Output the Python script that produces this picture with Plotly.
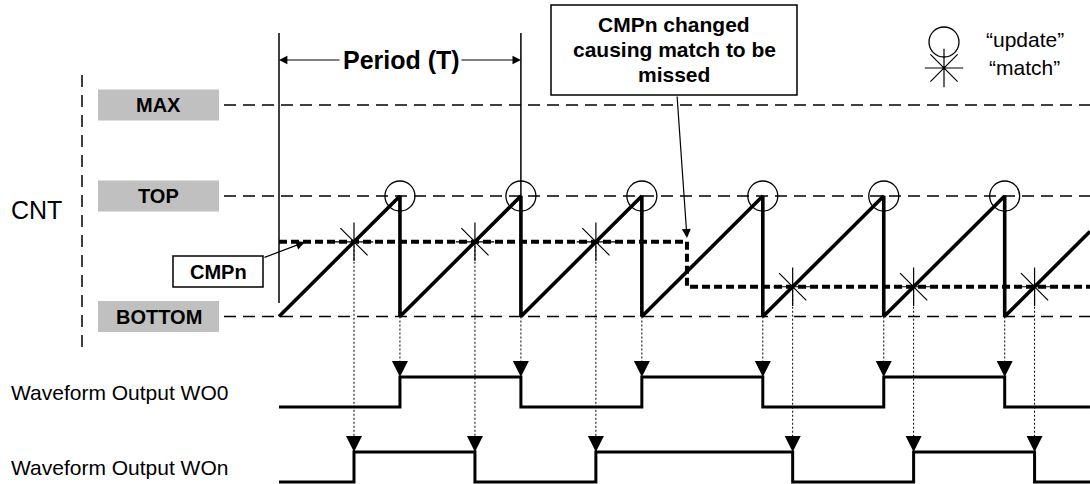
import plotly.graph_objects as go

# ---------------- data (time in periods, counter normalised BOTTOM=0, TOP=1) -------------
update_times = [1, 2, 3, 4, 5, 6]                    # TOP reached -> "update"
counter_t = [0, 1, 1, 2, 2, 3, 3, 4, 4, 5, 5, 6, 6, 6.705]
counter_v = [0, 1, 0, 1, 0, 1, 0, 1, 0, 1, 0, 1, 0, 0.705]
level_names = ["MAX", "TOP", "BOTTOM"]
level_values = [1.755, 1.0, 0.0]
cmp_t = [0, 3.373, 3.373, 6.705]
cmp_v = [0.62, 0.62, 0.247, 0.247]
match_times = [0.62, 1.62, 2.62, 4.247, 5.247, 6.247]
match_values = [0.62, 0.62, 0.62, 0.247, 0.247, 0.247]
wo0_t = [0, 1, 2, 3, 4, 5, 6, 6.705]
wo0_v = [0, 1, 0, 1, 0, 1, 0, 0]
won_t = [0, 0.62, 1.62, 2.62, 4.247, 5.247, 6.247, 6.705]
won_v = [0, 1, 0, 1, 0, 1, 0, 0]

# ---------------- layout geometry --------------------------------------------------------
W, H = 1090, 484
X0, PX_T = 279.0, 120.95       # pixel of t=0, pixels per period
Y0, PX_C = 316.5, 120.5        # pixel of BOTTOM, pixels per TOP-BOTTOM
FONT = "Liberation Sans, Arial, sans-serif"


def tx(px):
    return (px - X0) / PX_T


def cy(py):
    return (Y0 - py) / PX_C


def P(px):
    return px / W


def Q(py):
    return 1 - py / H


WO0_LOW, WO0_HIGH = 407, 377
WON_LOW, WON_HIGH = 482, 452


def wave(vals, low, high):
    return [cy(low + (high - low) * v) for v in vals]


fig = go.Figure()

# level dashed lines
for v in level_values:
    fig.add_trace(go.Scatter(x=[tx(224), tx(W)], y=[v, v], mode="lines",
                             line=dict(color="black", width=1.3, dash="12px,7px"),
                             hoverinfo="skip"))

# dotted lines from updates (at BOTTOM) to WO0, from matches to WOn
for t in update_times:
    fig.add_trace(go.Scatter(x=[t, t], y=[0, cy(WO0_HIGH)], mode="lines",
                             line=dict(color="black", width=1, dash="2px,2px"),
                             hoverinfo="skip"))
for t, v in zip(match_times, match_values):
    fig.add_trace(go.Scatter(x=[t, t], y=[v, cy(WON_HIGH)], mode="lines",
                             line=dict(color="black", width=1, dash="2px,2px"),
                             hoverinfo="skip"))

# counter sawtooth
fig.add_trace(go.Scatter(x=counter_t, y=counter_v, mode="lines",
                         line=dict(color="black", width=3.6), hoverinfo="skip"))
# CMPn
fig.add_trace(go.Scatter(x=cmp_t, y=cmp_v, mode="lines",
                         line=dict(color="black", width=4, dash="8px,4px"),
                         hoverinfo="skip"))
# waveforms
fig.add_trace(go.Scatter(x=wo0_t, y=wave(wo0_v, WO0_LOW, WO0_HIGH), mode="lines",
                         line=dict(color="black", width=3, shape="hv"), hoverinfo="skip"))
fig.add_trace(go.Scatter(x=won_t, y=wave(won_v, WON_LOW, WON_HIGH), mode="lines",
                         line=dict(color="black", width=3, shape="hv"), hoverinfo="skip"))

# update circles and match stars
fig.add_trace(go.Scatter(x=update_times, y=[1] * len(update_times), mode="markers",
                         marker=dict(symbol="circle-open", size=30, color="black",
                                     line=dict(width=1.3, color="black")),
                         hoverinfo="skip"))
fig.add_trace(go.Scatter(x=match_times, y=match_values, mode="markers",
                         marker=dict(symbol="asterisk-open", size=32, color="black",
                                     line=dict(width=1.2, color="black")),
                         hoverinfo="skip"))

# legend symbols
fig.add_trace(go.Scatter(x=[tx(944)], y=[cy(42)], mode="markers",
                         marker=dict(symbol="circle-open", size=30, color="black",
                                     line=dict(width=1.3, color="black")),
                         hoverinfo="skip"))
fig.add_trace(go.Scatter(x=[tx(944)], y=[cy(68)], mode="markers",
                         marker=dict(symbol="asterisk-open", size=32, color="black",
                                     line=dict(width=1.2, color="black")),
                         hoverinfo="skip"))

shapes = []
annotations = []

# vertical dashed CNT bracket
shapes.append(dict(type="line", xref="paper", yref="paper", x0=P(82), x1=P(82),
                   y0=Q(75), y1=Q(347), line=dict(color="black", width=1.5, dash="12px,8px")))

# gray level label boxes
level_px = {"MAX": 105, "TOP": 196, "BOTTOM": 316.5}
for name in level_names:
    yc = level_px[name]
    shapes.append(dict(type="rect", xref="paper", yref="paper", x0=P(98), x1=P(219),
                       y0=Q(yc - 15.5), y1=Q(yc + 15.5), fillcolor="#C0C0C0",
                       line=dict(width=0), layer="below"))
    annotations.append(dict(xref="paper", yref="paper", x=P(158.5), y=Q(yc),
                            text="<b>%s</b>" % name, showarrow=False,
                            font=dict(family=FONT, size=20, color="black"),
                            xanchor="center", yanchor="middle"))

# period markers
shapes.append(dict(type="line", xref="x", yref="paper", x0=0, x1=0, y0=Q(33), y1=Q(303),
                   line=dict(color="black", width=1.5)))
shapes.append(dict(type="line", xref="x", yref="paper", x0=2, x1=2, y0=Q(33), y1=Q(196),
                   line=dict(color="black", width=1.5)))
annotations.append(dict(xref="x", yref="paper", x=0, y=Q(60), ax=62, ay=0, text="",
                        showarrow=True, arrowhead=2, arrowsize=1.4, arrowwidth=1.2,
                        arrowcolor="black"))
annotations.append(dict(xref="x", yref="paper", x=2, y=Q(60), ax=-61, ay=0, text="",
                        showarrow=True, arrowhead=2, arrowsize=1.4, arrowwidth=1.2,
                        arrowcolor="black"))
annotations.append(dict(xref="paper", yref="paper", x=P(401), y=Q(60),
                        text="<b>Period (T)</b>", showarrow=False,
                        font=dict(family=FONT, size=25, color="black"),
                        xanchor="center", yanchor="middle"))

# CMPn label box + arrow
shapes.append(dict(type="rect", xref="paper", yref="paper", x0=P(173), x1=P(263),
                   y0=Q(256), y1=Q(287), fillcolor="white",
                   line=dict(color="black", width=1.5)))
annotations.append(dict(xref="paper", yref="paper", x=P(218), y=Q(271.5),
                        text="<b>CMPn</b>", showarrow=False,
                        font=dict(family=FONT, size=20, color="black"),
                        xanchor="center", yanchor="middle"))
annotations.append(dict(xref="paper", yref="paper", x=P(305), y=Q(242), ax=263 - 305,
                        ay=258 - 242, text="", showarrow=True, arrowhead=2,
                        arrowsize=1.5, arrowwidth=1.2, arrowcolor="black"))

# callout box
shapes.append(dict(type="rect", xref="paper", yref="paper", x0=P(551), x1=P(797),
                   y0=Q(5), y1=Q(95), fillcolor="white",
                   line=dict(color="black", width=1.5)))
for txt, yc in [("CMPn changed", 25), ("causing match to be", 50), ("missed", 75)]:
    annotations.append(dict(xref="paper", yref="paper", x=P(674), y=Q(yc),
                            text="<b>%s</b>" % txt, showarrow=False,
                            font=dict(family=FONT, size=21, color="black"),
                            xanchor="center", yanchor="middle"))
annotations.append(dict(xref="paper", yref="paper", x=P(687), y=Q(238), ax=677 - 687,
                        ay=95 - 238, text="", showarrow=True, arrowhead=2,
                        arrowsize=1.5, arrowwidth=1.2, arrowcolor="black"))

# arrowheads onto waveforms
for t in update_times:
    annotations.append(dict(xref="x", yref="y", x=t, y=cy(WO0_HIGH), ax=0, ay=-16,
                            text="", showarrow=True, arrowhead=2, arrowsize=3.2,
                            arrowwidth=1, arrowcolor="black"))
for t in match_times:
    annotations.append(dict(xref="x", yref="y", x=t, y=cy(WON_HIGH), ax=0, ay=-16,
                            text="", showarrow=True, arrowhead=2, arrowsize=3.2,
                            arrowwidth=1, arrowcolor="black"))

# text labels
annotations.append(dict(xref="paper", yref="paper", x=P(9), y=Q(210), text="CNT",
                        showarrow=False, font=dict(family=FONT, size=25, color="black"),
                        xanchor="left", yanchor="middle"))
annotations.append(dict(xref="paper", yref="paper", x=P(9), y=Q(392),
                        text="Waveform Output WO0", showarrow=False,
                        font=dict(family=FONT, size=21, color="black"),
                        xanchor="left", yanchor="middle"))
annotations.append(dict(xref="paper", yref="paper", x=P(9), y=Q(467),
                        text="Waveform Output WOn", showarrow=False,
                        font=dict(family=FONT, size=21, color="black"),
                        xanchor="left", yanchor="middle"))
annotations.append(dict(xref="paper", yref="paper", x=P(984), y=Q(39),
                        text="\u201cupdate\u201d", showarrow=False,
                        font=dict(family=FONT, size=21, color="black"),
                        xanchor="left", yanchor="middle"))
annotations.append(dict(xref="paper", yref="paper", x=P(987), y=Q(68),
                        text="\u201cmatch\u201d", showarrow=False,
                        font=dict(family=FONT, size=21, color="black"),
                        xanchor="left", yanchor="middle"))

fig.update_layout(
    width=W, height=H, margin=dict(l=0, r=0, t=0, b=0),
    paper_bgcolor="white", plot_bgcolor="white", showlegend=False,
    xaxis=dict(range=[tx(0), tx(W)], visible=False, fixedrange=True),
    yaxis=dict(range=[cy(H), cy(0)], visible=False, fixedrange=True),
    shapes=shapes, annotations=annotations,
)

fig.write_html("out.html",
               config={"displayModeBar": False, "staticPlot": True},
               post_script="document.body.style.margin='0px';"
                           "document.body.style.overflow='hidden';")
